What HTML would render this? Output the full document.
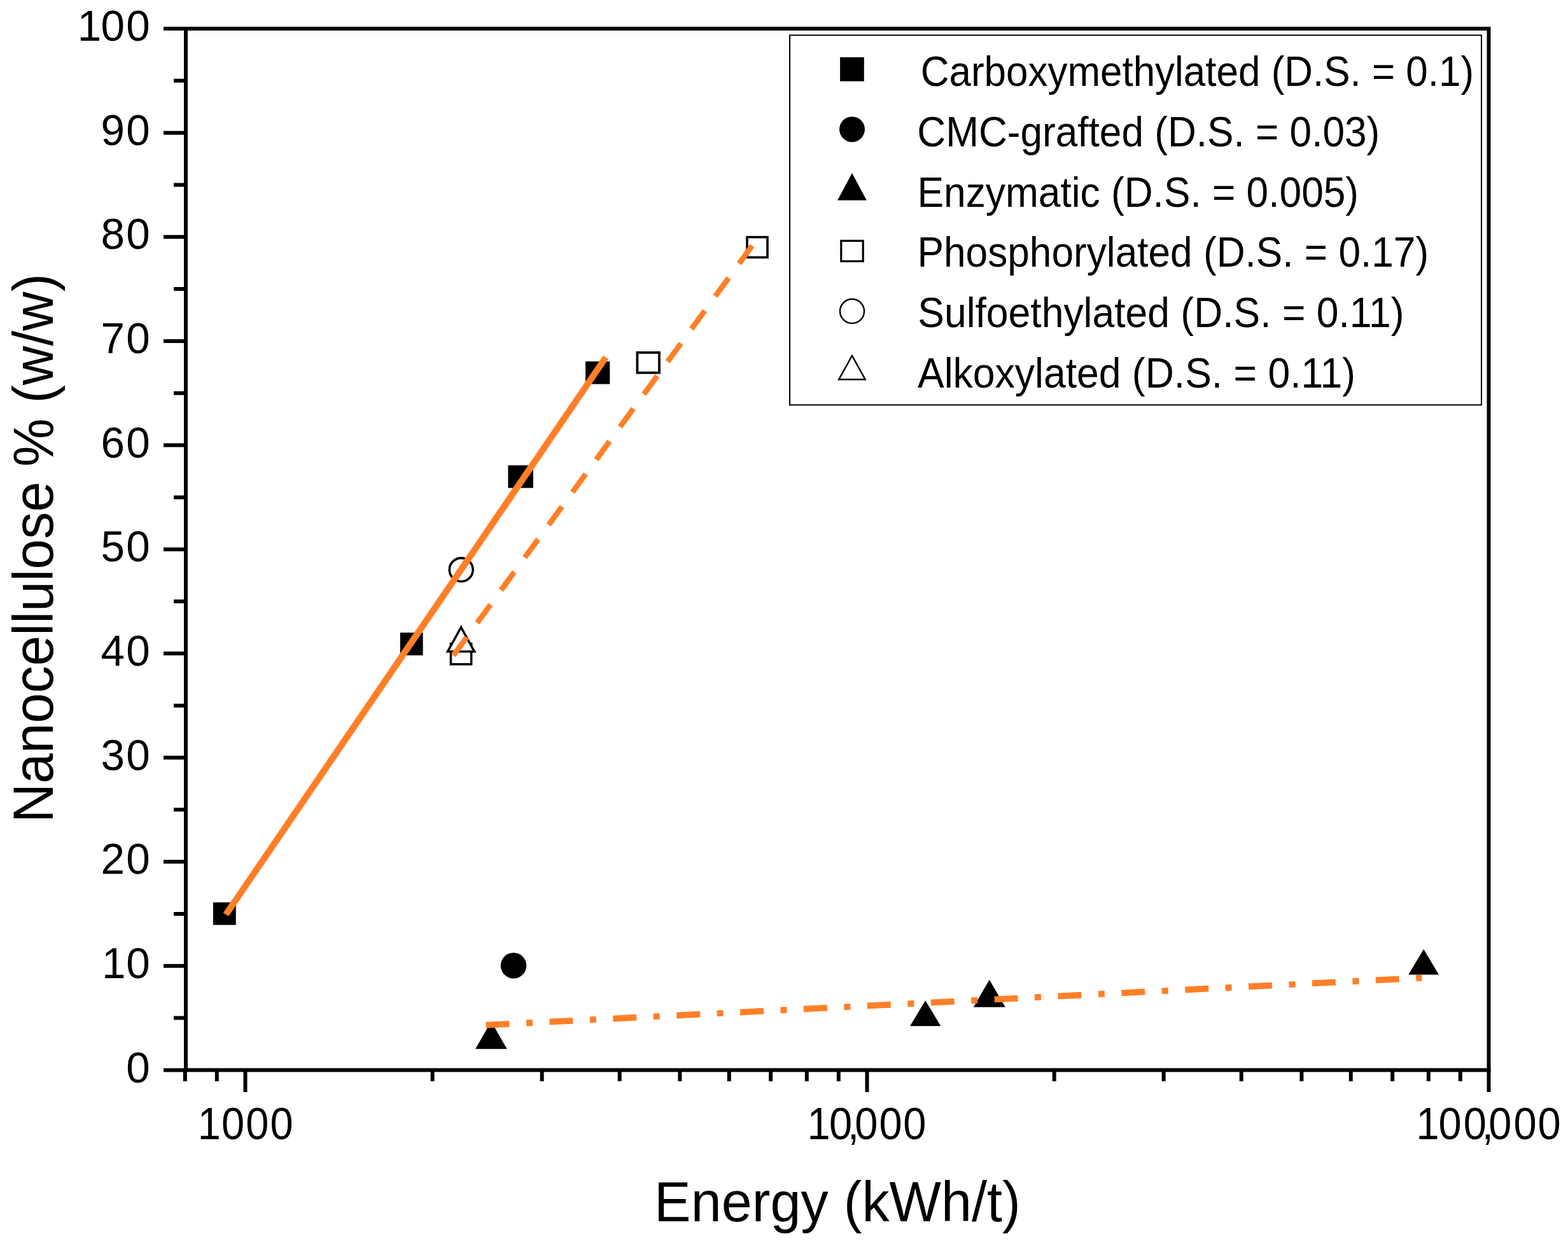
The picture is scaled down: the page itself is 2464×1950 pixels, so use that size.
<!DOCTYPE html>
<html><head><meta charset="utf-8"><title>Nanocellulose vs Energy</title>
<style>html,body{margin:0;padding:0;background:#fff;overflow:hidden;}svg{display:block;}</style></head>
<body>
<svg width="2464" height="1950" viewBox="0 0 2464 1950" font-family='"Liberation Sans", Arial, sans-serif' fill="#000"><rect x="0" y="0" width="2464" height="1950" fill="#fff"/>
<path d="M257 1681.40H292.0 M257 1517.76H292.0 M257 1354.12H292.0 M257 1190.48H292.0 M257 1026.84H292.0 M257 863.20H292.0 M257 699.56H292.0 M257 535.92H292.0 M257 372.28H292.0 M257 208.64H292.0 M257 45.00H292.0 M273 1599.58H292.0 M273 1435.94H292.0 M273 1272.30H292.0 M273 1108.66H292.0 M273 945.02H292.0 M273 781.38H292.0 M273 617.74H292.0 M273 454.10H292.0 M273 290.46H292.0 M273 126.82H292.0 M385.50 1681.4V1716 M1362.50 1681.4V1716 M2339.50 1681.4V1716 M290.82 1681.4V1699 M340.79 1681.4V1699 M679.61 1681.4V1699 M851.65 1681.4V1699 M973.71 1681.4V1699 M1068.39 1681.4V1699 M1145.75 1681.4V1699 M1211.16 1681.4V1699 M1267.82 1681.4V1699 M1317.79 1681.4V1699 M1656.61 1681.4V1699 M1828.65 1681.4V1699 M1950.71 1681.4V1699 M2045.39 1681.4V1699 M2122.75 1681.4V1699 M2188.16 1681.4V1699 M2244.82 1681.4V1699 M2294.79 1681.4V1699" stroke="#000" stroke-width="6.0" fill="none"/>
<rect x="292.0" y="45.0" width="2047.5" height="1636.4" fill="none" stroke="#000" stroke-width="6.0"/>
<text transform="translate(0 1700.60) scale(1 1.023)" x="198.27" y="0" font-size="67.4">0</text>
<text transform="translate(0 1536.96) scale(1 1.023)" x="159.99 198.27" y="0" font-size="67.4">10</text>
<text transform="translate(0 1373.32) scale(1 1.023)" x="158.40 198.27" y="0" font-size="67.4">20</text>
<text transform="translate(0 1209.68) scale(1 1.023)" x="158.40 198.27" y="0" font-size="67.4">30</text>
<text transform="translate(0 1046.04) scale(1 1.023)" x="158.40 198.27" y="0" font-size="67.4">40</text>
<text transform="translate(0 882.40) scale(1 1.023)" x="158.40 198.27" y="0" font-size="67.4">50</text>
<text transform="translate(0 718.76) scale(1 1.023)" x="158.40 198.27" y="0" font-size="67.4">60</text>
<text transform="translate(0 555.12) scale(1 1.023)" x="158.40 198.27" y="0" font-size="67.4">70</text>
<text transform="translate(0 391.48) scale(1 1.023)" x="158.40 198.27" y="0" font-size="67.4">80</text>
<text transform="translate(0 227.84) scale(1 1.023)" x="158.40 198.27" y="0" font-size="67.4">90</text>
<text transform="translate(0 64.20) scale(1 1.023)" x="121.79 158.57 198.27" y="0" font-size="67.4">100</text>
<text transform="translate(0 1789.70) scale(1 1.074)" x="310.81 347.91 386.26 424.46" y="0" font-size="65">1000</text>
<text transform="translate(0 1789.70) scale(1 1.074)" x="1268.51 1303.06 1332.06 1343.16 1381.46 1419.36" y="0" font-size="65">10,000</text>
<text transform="translate(0 1789.70) scale(1 1.074)" x="2225.61 2260.46 2299.66 2328.76 2339.36 2378.56 2416.46" y="0" font-size="65">100,000</text>
<text transform="translate(1028.1 1918.8) scale(1.0159 1.041)" font-size="85">Energy (kWh/t)</text>
<text transform="translate(82.8 1292.85) rotate(-90) scale(0.9922 1.043)" font-size="86">Nanocellulose % (w/w)</text>
<rect x="1241" y="55.3" width="1087" height="581.0" fill="#fff" stroke="#000" stroke-width="2"/>
<text transform="translate(1446.70 135.40) scale(0.9682 1.035)" font-size="64">Carboxymethylated (D.S. = 0.1)</text>
<text transform="translate(1441.29 230.08) scale(0.9710 1.035)" font-size="64">CMC-grafted (D.S. = 0.03)</text>
<text transform="translate(1441.54 324.76) scale(0.9727 1.035)" font-size="64">Enzymatic (D.S. = 0.005)</text>
<text transform="translate(1441.54 419.44) scale(0.9718 1.035)" font-size="64">Phosphorylated (D.S. = 0.17)</text>
<text transform="translate(1442.27 514.12) scale(0.9759 1.035)" font-size="64">Sulfoethylated (D.S. = 0.11)</text>
<text transform="translate(1442.00 608.80) scale(0.9766 1.035)" font-size="64">Alkoxylated (D.S. = 0.11)</text>
<rect x="1320.1" y="90" width="37.70" height="37.70" fill="#000"/>
<circle cx="1339" cy="203.2" r="20.0" fill="#000"/>
<path d="M1338.95 272.00L1361.80 314.70H1316.10Z" fill="#000"/>
<rect x="1321.80" y="378.40" width="34.40" height="32.10" fill="#fff" stroke="#000" stroke-width="3.2"/>
<circle cx="1339" cy="489" r="19.05" fill="#fff" stroke="#000" stroke-width="2.4"/>
<path d="M1338.95 558.87L1359.76 596.30H1318.14Z" fill="#fff" stroke="#000" stroke-width="2.4" stroke-linejoin="miter"/>
<rect x="334.9" y="1417.9" width="35.80" height="35.50" fill="#000"/>
<rect x="628.8" y="994" width="35.80" height="35.70" fill="#000"/>
<rect x="798.4" y="731.2" width="39.50" height="35.50" fill="#000"/>
<rect x="920.1" y="567.9" width="38.20" height="35.60" fill="#000"/>
<circle cx="807" cy="1517.2" r="20.25" fill="#000"/>
<path d="M771.85 1605.10L796.70 1648.20H747.00Z" fill="#000"/>
<path d="M1454.20 1571.90L1478.30 1612.20H1430.10Z" fill="#000"/>
<path d="M1554.75 1539.50L1579.80 1582.60H1529.70Z" fill="#000"/>
<path d="M2237.15 1491.40L2261.00 1531.50H2213.30Z" fill="#000"/>
<rect x="1174.00" y="372.60" width="32.00" height="31.80" fill="#fff" stroke="#000" stroke-width="3.6"/>
<rect x="1001.40" y="554.00" width="34.60" height="31.70" fill="#fff" stroke="#000" stroke-width="3.8"/>
<rect x="708.45" y="1011.55" width="32.20" height="32.20" fill="#fff" stroke="#000" stroke-width="3.5"/>
<circle cx="724.7" cy="895.3" r="18.45" fill="#fff" stroke="#000" stroke-width="3.6"/>
<path d="M724.50 985.72L745.54 1023.85H703.46Z" fill="#fff" stroke="#000" stroke-width="3.5" stroke-linejoin="miter"/>
<path d="M355 1437L952 561.5" stroke="#FF7F27" stroke-width="10.2" fill="none"/>
<path d="M712.5 1030L1182 386" stroke="#FF7F27" stroke-width="8.6" stroke-dasharray="35.5 28" fill="none"/>
<path d="M763.6 1610.7L2234.5 1536.5" stroke="#FF7F27" stroke-width="9.8" stroke-dasharray="37 26.5 10 26.5" fill="none"/></svg>
</body></html>
